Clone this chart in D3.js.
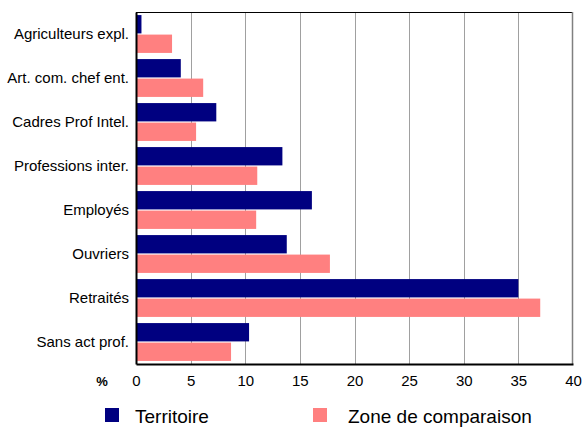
<!DOCTYPE html>
<html>
<head>
<meta charset="utf-8">
<script src="https://cdn.jsdelivr.net/npm/d3@7"></script>
<style>
  body { margin: 0; background: #fff; }
  svg { font-family: "Liberation Sans", Arial, sans-serif; display: block; }
</style>
</head>
<body>
<div id="chart"></div>
<script>
// data
const categories = ["Agriculteurs expl.", "Art. com. chef ent.", "Cadres Prof Intel.", "Professions inter.",
                    "Employés", "Ouvriers", "Retraités", "Sans act prof."];
const seriesNames = ["Territoire", "Zone de comparaison"];
const territoire = [0.5, 4.1, 7.35, 13.4, 16.1, 13.8, 35.0, 10.35];
const zone = [3.3, 6.15, 5.5, 11.1, 11.0, 17.75, 37.0, 8.7];
const xTicks = [0, 5, 10, 15, 20, 25, 30, 35, 40];
const colors = ["#000080", "#ff8080"];

const w = 582, h = 427;
const m = { top: 12, right: 9, bottom: 63, left: 136 };
const iw = w - m.left - m.right, ih = h - m.top - m.bottom;

const svg = d3.select("#chart").append("svg").attr("width", w).attr("height", h);
const g = svg.append("g").attr("transform", `translate(${m.left},${m.top})`);

const x = d3.scaleLinear().domain([0, 40]).range([0, iw]);
const y = d3.scaleBand().domain(categories).range([0, ih]).paddingInner(0.14).paddingOuter(0.07);
const ys = d3.scaleBand().domain(seriesNames).range([0, y.bandwidth()]).paddingInner(0.06);

// grid lines
g.append("g").selectAll("line").data(xTicks.slice(1, -1)).join("line")
  .attr("x1", d => Math.round(x(d)) + 0.5).attr("x2", d => Math.round(x(d)) + 0.5)
  .attr("y1", 0).attr("y2", ih)
  .attr("stroke", "#a0a0a0").attr("stroke-width", 1);

// bars
const rows = categories.map((c, i) => ({ c, vals: [territoire[i], zone[i]] }));
const grp = g.append("g").selectAll("g").data(rows).join("g")
  .attr("transform", d => `translate(0,${y(d.c)})`);
grp.selectAll("rect").data(d => d.vals.map((v, k) => ({ v, k }))).join("rect")
  .attr("x", 0)
  .attr("y", d => ys(seriesNames[d.k]))
  .attr("width", d => x(d.v))
  .attr("height", ys.bandwidth())
  .attr("fill", d => colors[d.k]);

// frame: top black, right gray
g.append("line").attr("x1", 0).attr("x2", iw).attr("y1", 0.5).attr("y2", 0.5)
  .attr("stroke", "#000").attr("stroke-width", 1);
g.append("line").attr("x1", iw - 0.5).attr("x2", iw - 0.5).attr("y1", 0).attr("y2", ih)
  .attr("stroke", "#808080").attr("stroke-width", 1.5);

// axes
const gx = g.append("g").attr("transform", `translate(0,${ih})`)
  .call(d3.axisBottom(x).tickValues(xTicks).tickSize(0).tickPadding(11));
gx.select(".domain").attr("stroke", "#000").attr("stroke-width", 2);
gx.selectAll("text").attr("font-size", 15).attr("fill", "#000").attr("font-family", "Liberation Sans, Arial, sans-serif");

const gy = g.append("g").call(d3.axisLeft(y).tickSize(0).tickPadding(7));
gy.select(".domain").attr("stroke", "#000").attr("stroke-width", 2);
gy.selectAll("text").attr("font-size", 15).attr("fill", "#000").attr("font-family", "Liberation Sans, Arial, sans-serif");

// % unit label
svg.append("text").attr("x", 102).attr("y", m.top + ih + 22).attr("text-anchor", "middle")
  .attr("font-size", 13).attr("font-weight", "bold").text("%");

// legend (nudged up a bit so descenders aren't clipped)
const legX = [105, 313];
const leg = svg.append("g").selectAll("g").data(seriesNames).join("g")
  .attr("transform", (d, i) => `translate(${legX[i]},408)`);
leg.append("rect").attr("width", 14).attr("height", 14).attr("fill", (d, i) => colors[i]);
leg.append("text").attr("x", (d, i) => i === 0 ? 30 : 35).attr("y", 14.5)
  .attr("font-size", 19).attr("fill", "#000").text(d => d);
</script>
</body>
</html>
